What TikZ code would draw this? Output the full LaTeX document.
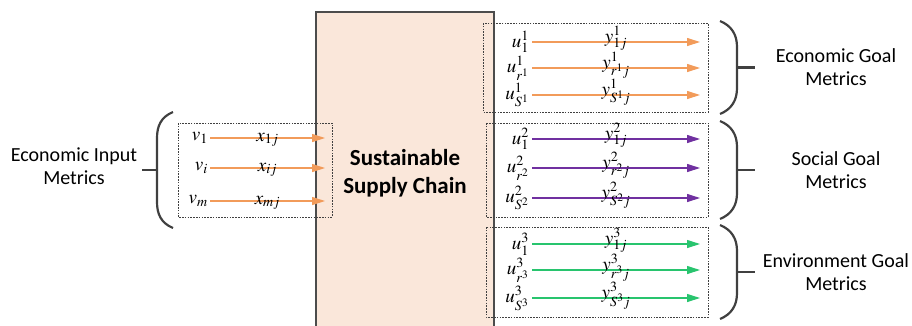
\documentclass[tikz,border=0pt]{standalone}
\usepackage{mathptmx}
\usepackage[no-math]{fontspec}
\newfontfamily\labelfont{Carlito}
\usetikzlibrary{arrows.meta}

\definecolor{chainfill}{RGB}{250,231,218}
\definecolor{orangeA}{RGB}{242,155,90}
\definecolor{purpleA}{RGB}{112,48,160}
\definecolor{greenA}{RGB}{40,196,110}
\definecolor{braceA}{RGB}{64,64,64}

\tikzset{
  metricbox/.style={draw=black!75, line width=0.8pt, dash pattern=on 1.6pt off 1.2pt},
  flow/.style={line width=1.1pt, -{Triangle[length=13pt,width=8pt]}},
  bracepen/.style={draw=braceA, line width=2.2pt},
  metrictext/.style={font=\labelfont\fontsize{20}{23}\selectfont, align=center},
  mathlbl/.style={font=\fontsize{19}{21}\selectfont, inner sep=0pt},
}

\begin{document}
\begin{tikzpicture}[x=1pt,y=-1pt]
\clip (0,0) rectangle (912,325);

% Supply chain block
\draw[fill=chainfill, draw=black!70, line width=1.2pt] (316,12) rectangle (494,340);
\node[font=\labelfont\bfseries\fontsize{23}{28}\selectfont, align=center] (chain) at (405,173) {Sustainable\\Supply Chain};

% Left side (input metrics)
\draw[metricbox] (178,123) rectangle (332,217);
\foreach \k/\y/\vsub/\xsub in {1/138/1/1j, 2/168/i/ij, 3/201/m/mj} {
  \coordinate (vs\k) at (210,\y);
  \coordinate (ve\k) at (325,\y);
  \node[mathlbl, anchor=east] (v\k) at ([xshift=-2pt]vs\k) {$v_{\vsub}$};
  \draw[flow, color=orangeA] (vs\k) -- (ve\k) node[midway, anchor=base, yshift=-3pt, mathlbl, text=black] {$x_{\xsub}$};
}
\draw[bracepen] (173,112) .. controls (161,117) and (157,126) .. (157,138) -- (157,202) .. controls (157,214) and (161,223) .. (173,228);
\draw[bracepen] (157,170) -- (142,170);
\node[metrictext] (econin) at (74,166) {Economic Input\\Metrics};

% Right side (goal metrics)
\foreach \g/\col/\ytop/\ybot/\ya/\yb/\yc/\bx/\txt in {1/orangeA/23/112/42/68/95/483/{Economic Goal\\Metrics},
    2/purpleA/123/217/139/168/198/486/{Social Goal\\Metrics},
    3/greenA/227/317/244/270/298/486/{Environment Goal\\Metrics}} {
  \draw[metricbox] (\bx,\ytop) rectangle (708,\ybot);
  \foreach \r/\y/\usub/\ysub in {1/\ya/1/1j, 2/\yb/r^{\g}/r^{\g}j, 3/\yc/S^{\g}/S^{\g}j} {
    \coordinate (us\g\r) at (532,\y);
    \coordinate (ue\g\r) at (700,\y);
    \node[mathlbl, anchor=east] (u\g\r) at ([xshift=-3pt]us\g\r) {$u^{\g}_{\usub}$};
    \draw[flow, color=\col] (us\g\r) -- (ue\g\r) node[midway, anchor=base, mathlbl, text=black] {$y^{\g}_{\ysub}$};
  }
  \pgfmathsetmacro{\ymid}{(\ytop+\ybot)/2}
  \draw[bracepen] (720,\ytop-2) .. controls (732,\ytop+3) and (737,\ytop+12) .. (737,\ytop+24) -- (737,\ybot-24) .. controls (737,\ybot-12) and (732,\ybot-3) .. (720,\ybot+2);
  \draw[bracepen] (737,\ymid) -- (755,\ymid);
  \node[metrictext] (goal\g) at (836,\ymid) {\txt};
}

\end{tikzpicture}
\end{document}
